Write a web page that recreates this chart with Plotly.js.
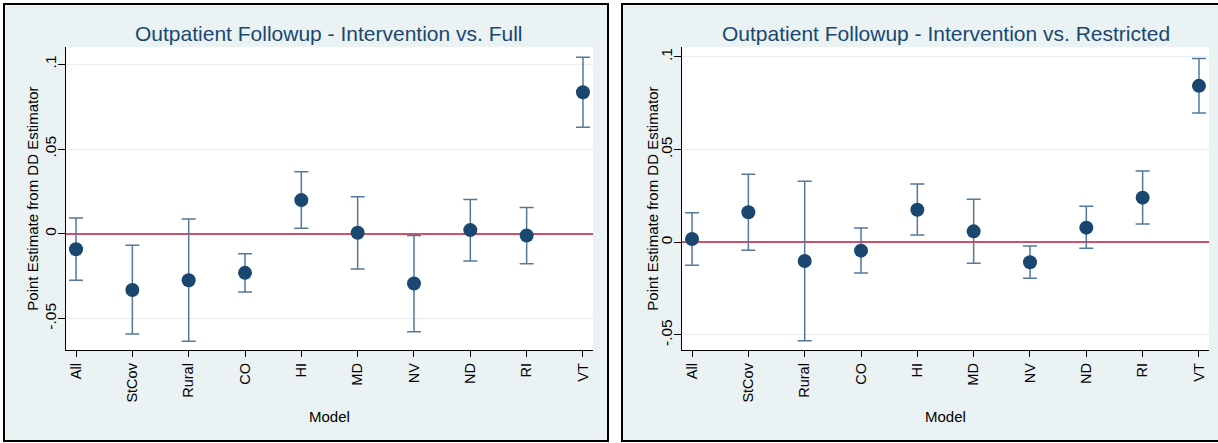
<!DOCTYPE html>
<html>
<head>
<meta charset="utf-8">
<script src="https://cdn.plot.ly/plotly-3.0.1.min.js"></script>
<style>html,body{margin:0;padding:0;background:#fff;}#chart{width:1218px;height:443px;}</style>
</head>
<body>
<div id="chart"></div>
<script>
// Data
const models = ["All", "StCov", "Rural", "CO", "HI", "MD", "NV", "ND", "RI", "VT"];

// Panel 1: Intervention vs. Full
const fullEst   = [-0.0091, -0.0331, -0.0274, -0.0230, 0.0199, 0.0006, -0.0293, 0.0022, -0.0010, 0.0835];
const fullUpper = [ 0.0094, -0.0067,  0.0087, -0.0118, 0.0366, 0.0219, -0.0010, 0.0203,  0.0156, 0.1041];
const fullLower = [-0.0274, -0.0590, -0.0634, -0.0343, 0.0033, -0.0207, -0.0577, -0.0160, -0.0177, 0.0628];

// Panel 2: Intervention vs. Restricted
const restEst   = [ 0.0018, 0.0162, -0.0101, -0.0045, 0.0176, 0.0059, -0.0108, 0.0079, 0.0241, 0.0844];
const restUpper = [ 0.0160, 0.0367,  0.0329,  0.0077, 0.0315, 0.0232, -0.0020, 0.0194, 0.0385, 0.0991];
const restLower = [-0.0124, -0.0043, -0.0531, -0.0165, 0.0040, -0.0113, -0.0194, -0.0032, 0.0099, 0.0698];

const yTickVals = [-0.05, 0, 0.05, 0.1];
const yTickText = ["-.05", "0", ".05", ".1"];

const titles = ["Outpatient Followup - Intervention vs. Full", "Outpatient Followup - Intervention vs. Restricted"];
const xTitle = "Model";
const yTitle = "Point Estimate from DD Estimator";

const W = 1218, H = 443;
const px = v => v / W;
const py = v => (H - v) / H;

const navy = "#1a476f";
const barColor = "#55779a";
const font = "Liberation Sans, Arial, Helvetica, sans-serif";

function trace(est, up, lo, xa, ya) {
  return {
    type: "scatter", mode: "markers",
    x: models, y: est, xaxis: xa, yaxis: ya,
    marker: {color: navy, size: 14},
    error_y: {
      type: "data", symmetric: false,
      array: up.map((u, i) => u - est[i]),
      arrayminus: lo.map((l, i) => est[i] - l),
      color: barColor, thickness: 1.5, width: 7
    },
    showlegend: false, hoverinfo: "skip"
  };
}

function xax(domain, anchor) {
  return {
    domain: domain, anchor: anchor, type: "category",
    range: [-0.178, 9.178],
    showline: true, linecolor: "#000", linewidth: 1.3,
    ticks: "outside", ticklen: 6, tickcolor: "#000", tickwidth: 1,
    tickangle: -90, tickfont: {family: font, size: 14.5, color: "#000"},
    showgrid: false, zeroline: false
  };
}
function yax(domain, anchor, range) {
  return {
    domain: domain, anchor: anchor, range: range,
    tickvals: yTickVals, ticktext: yTickText,
    showline: true, linecolor: "#000", linewidth: 1.3,
    ticks: "outside", ticklen: 7, tickcolor: "#000", tickwidth: 1,
    ticklabelstandoff: -4,
    tickangle: -90, tickfont: {family: font, size: 15.5, color: "#000"},
    showgrid: true, gridcolor: "#e8eff0", gridwidth: 1,
    zeroline: true, zerolinecolor: "#d0506a", zerolinewidth: 2
  };
}

function ann(text, x, y, size, color, angle) {
  return {text: text, xref: "paper", yref: "paper", x: px(x), y: py(y), xanchor: "center", yanchor: "middle",
          showarrow: false, textangle: angle || 0, font: {family: font, size: size, color: color}};
}

const yDom = [py(350), py(47.3)];
const layout = {
  width: W, height: H,
  margin: {l: 0, r: 0, t: 0, b: 0},
  paper_bgcolor: "#ffffff", plot_bgcolor: "rgba(0,0,0,0)",
  xaxis: xax([px(66), px(593)], "y"),
  yaxis: yax(yDom, "x", [-0.0685, 0.1100]),
  xaxis2: xax([px(682), px(1209)], "y2"),
  yaxis2: yax(yDom, "x2", [-0.0581, 0.1052]),
  shapes: [
    {type: "rect", xref: "paper", yref: "paper", x0: px(4), x1: px(608), y0: py(441), y1: py(4),
     fillcolor: "#eaf2f3", line: {color: "#000", width: 2}, layer: "below"},
    {type: "rect", xref: "paper", yref: "paper", x0: px(622), x1: px(1230), y0: py(441), y1: py(4),
     fillcolor: "#eaf2f3", line: {color: "#000", width: 2}, layer: "below"},
    {type: "rect", xref: "paper", yref: "paper", x0: px(66), x1: px(593), y0: py(350), y1: py(47.3),
     fillcolor: "#ffffff", line: {width: 0}, layer: "below"},
    {type: "rect", xref: "paper", yref: "paper", x0: px(682), x1: px(1209), y0: py(350), y1: py(47.3),
     fillcolor: "#ffffff", line: {width: 0}, layer: "below"}
  ],
  annotations: [
    ann(titles[0], 329.5, 33, 21, navy),
    ann(titles[1], 945.5, 33, 21, navy),
    ann(xTitle, 329.5, 416.5, 15, "#000"),
    ann(xTitle, 945.5, 416.5, 15, "#000"),
    ann(yTitle, 33, 198.7, 15, "#000", -90),
    ann(yTitle, 653, 198.7, 15, "#000", -90)
  ]
};

Plotly.newPlot("chart", [
  trace(fullEst, fullUpper, fullLower, "x", "y"),
  trace(restEst, restUpper, restLower, "x2", "y2")
], layout, {staticPlot: true, displayModeBar: false});
</script>
</body>
</html>
